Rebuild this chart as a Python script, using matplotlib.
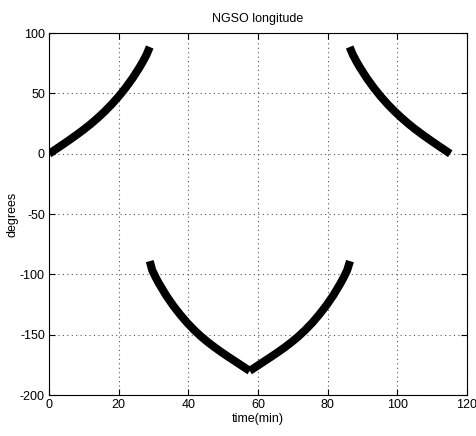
import matplotlib
matplotlib.use('Agg')
import matplotlib.pyplot as plt

# longitude track, one list per segment
t1 = [0, 2, 4, 6, 8, 10, 12, 14, 16, 18, 20, 22, 24, 26, 27, 28, 28.9]
lon1 = [0, 3.9, 7.8, 11.8, 15.9, 20.2, 24.8, 29.8, 35.2, 41.1, 47.6, 54.8,
        62.8, 71.8, 76.8, 82.3, 88.5]

t2 = [28.9, 29.6, 30.6, 31.6, 33.6, 35.6, 37.6, 39.6, 41.6, 43.6, 45.6,
      47.6, 49.6, 51.6, 53.6, 55.6, 57.6]
lon2 = [-89, -96.5, -102.5, -107.8, -117.4, -125.8, -133.2, -140, -146,
        -151.4, -156.2, -160.6, -164.7, -168.6, -172.4, -176.2, -180]

t3 = [57.6, 59.6, 61.6, 63.6, 65.6, 67.6, 69.6, 71.6, 73.6, 75.6, 77.6,
      79.6, 81.6, 83.6, 84.6, 85.6, 86.4]
lon3 = [-180, -176.2, -172.4, -168.6, -164.7, -160.6, -156.2, -151.4, -146,
        -140, -133.2, -125.8, -117.4, -107.8, -102.5, -96.5, -89]

t4 = [86.3, 87.2, 88.2, 89.2, 91.2, 93.2, 95.2, 97.2, 99.2, 101.2, 103.2,
      105.2, 107.2, 109.2, 111.2, 113.2, 115.2]
lon4 = [88.5, 82.3, 76.8, 71.8, 62.8, 54.8, 47.6, 41.1, 35.2, 29.8, 24.8,
        20.2, 15.9, 11.8, 7.8, 3.9, 0]

xticks = [0, 20, 40, 60, 80, 100, 120]
yticks = [-200, -150, -100, -50, 0, 50, 100]

plt.rcParams['font.family'] = ['Liberation Sans', 'DejaVu Sans']
plt.rcParams['axes.unicode_minus'] = False

fig = plt.figure(figsize=(4.77, 4.36), dpi=100)
ax = fig.add_axes([0.103, 0.094, 0.876, 0.830])

for t, lon in [(t1, lon1), (t2, lon2), (t3, lon3), (t4, lon4)]:
    ax.plot(t, lon, color='black', lw=5.8, solid_capstyle='butt',
            solid_joinstyle='round')

ax.set_xlim(0, 120)
ax.set_ylim(-200, 100)
ax.set_xticks(xticks)
ax.set_yticks(yticks)
ax.grid(True, linestyle=(0, (1, 3)), color='#555555', linewidth=0.8)
ax.tick_params(direction='in', top=True, right=True, labelsize=9, length=4,
               pad=3)
for s in ax.spines.values():
    s.set_linewidth(0.8)

ax.set_title("NGSO longitude", fontsize=9, pad=8)
ax.set_xlabel("time(min)", fontsize=9, labelpad=1)
ax.set_ylabel("degrees", fontsize=9, labelpad=1)

fig.savefig("out.png", dpi=100)
